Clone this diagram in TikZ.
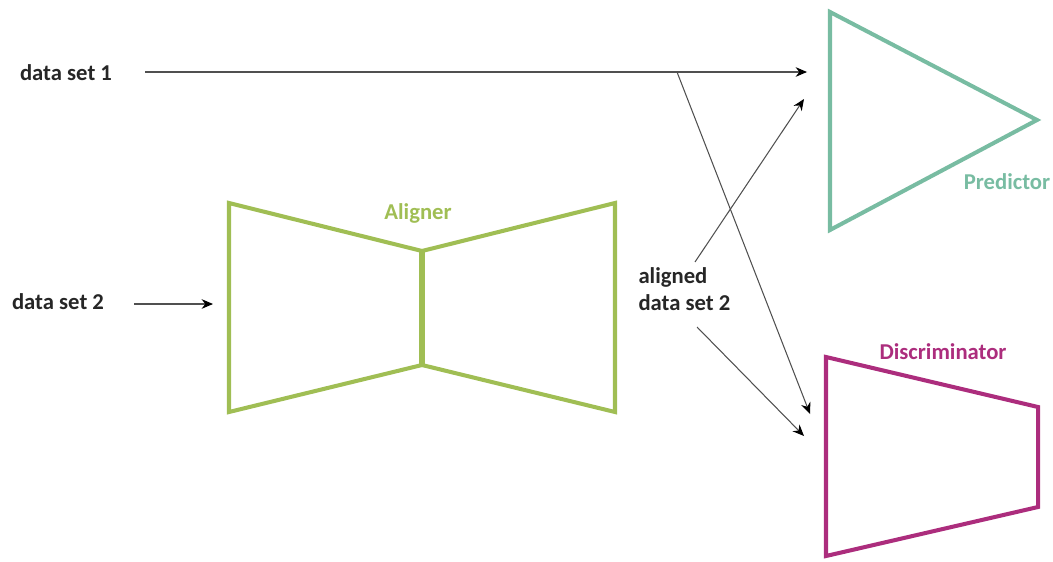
\documentclass[tikz,border=0pt]{standalone}
\usepackage{fontspec}
\setmainfont{Carlito}
\usetikzlibrary{arrows.meta, positioning, calc}
\definecolor{alignergreen}{RGB}{160,190,84}
\definecolor{predteal}{RGB}{120,188,162}
\definecolor{discpink}{RGB}{172,45,125}
\definecolor{linegray}{RGB}{80,80,80}

\begin{document}
\begin{tikzpicture}[x=0.02cm, y=-0.02cm, ->, >={Stealth[length=6.5pt, width=5.5pt, color=black]},
    line width=0.6pt, draw=linegray,
    lbl/.style={font=\fontsize{12.9}{15.5}\selectfont\bfseries, inner sep=0pt, text=black!85},
    block/.style={-, line width=2.3pt, line join=miter}]
  \useasboundingbox (0,0) rectangle (1053,561);

  % labels
  \node[lbl] (ds1) at (66,73) {data set 1};
  \node[lbl] (ds2) at (58,302) {data set 2};
  \node[lbl, align=left, anchor=west] (al) at (638,289) {aligned\\data set 2};

  % aligner
  \coordinate (alt1) at (229,203);
  \coordinate (alt2) at (422,251);
  \coordinate (alt3) at (615,203);
  \coordinate (alb3) at (615,412);
  \coordinate (alb2) at (422,365);
  \coordinate (alb1) at (229,412);
  \draw[block, alignergreen] (alt2) -- (alt1) -- (alb1) -- (alb2);
  \draw[block, alignergreen] (alt2) -- (alt3) -- (alb3) -- (alb2);
  \draw[block, alignergreen, line width=3.4pt] (alt2) -- (alb2);
  \node[lbl, text=alignergreen] (aligner) at (418,213) {Aligner};

  % predictor
  \coordinate (pr1) at (830,12);
  \coordinate (pr2) at (1037,120);
  \coordinate (pr3) at (830,230);
  \draw[block, predteal] (pr1) -- (pr2) -- (pr3) -- cycle;
  \node[lbl, text=predteal] (predictor) at (1007,182) {Predictor};

  % discriminator
  \coordinate (di1) at (826,357);
  \coordinate (di2) at (1038,407);
  \coordinate (di3) at (1038,507);
  \coordinate (di4) at (826,556);
  \draw[block, discpink] (di1) -- (di2) -- (di3) -- (di4) -- cycle;
  \node[lbl, text=discpink] (discriminator) at (943,352) {Discriminator};

  % connector ends
  \coordinate (s1) at (145,72);
  \coordinate (br) at (677,72);
  \coordinate (pin1) at (807,72);
  \coordinate (pin2) at (804,99);
  \coordinate (s2) at (134,304);
  \coordinate (ain) at (213,304);
  \coordinate (a1) at (695,262);
  \coordinate (a2) at (697,327);
  \coordinate (din1) at (810,414);
  \coordinate (din2) at (804,436);

  \draw (s1) -- (pin1);
  \draw (br) -- (din1);
  \draw (s2) -- (ain);
  \draw (a1) -- (pin2);
  \draw (a2) -- (din2);
\end{tikzpicture}
\end{document}
